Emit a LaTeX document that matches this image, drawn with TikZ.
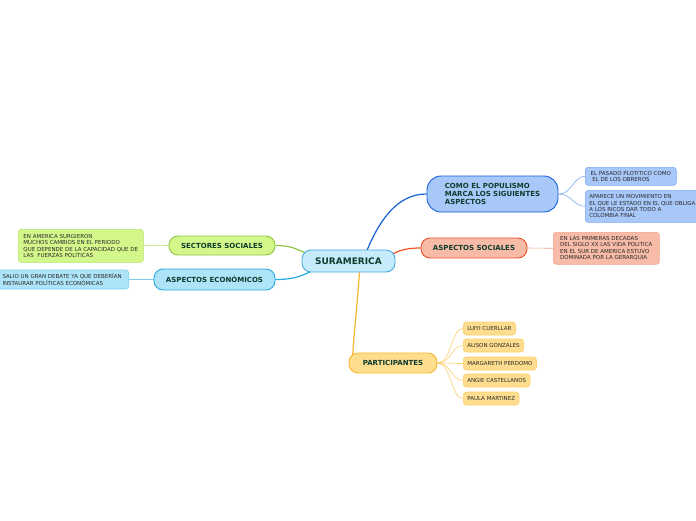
\documentclass[tikz,border=0pt]{standalone}
\usepackage{fontspec}
\setmainfont{DejaVu Sans}
\usetikzlibrary{calc,backgrounds}
\definecolor{maintext}{HTML}{0E3B2C}
\definecolor{leaftext}{HTML}{2A2A2A}
\definecolor{surfill}{HTML}{C6EBFB}\definecolor{surdraw}{HTML}{4AA8E0}
\definecolor{popfill}{HTML}{A8C8FA}\definecolor{popdraw}{HTML}{1560D8}\definecolor{popleaf}{HTML}{7DA9F0}
\definecolor{socfill}{HTML}{F8BBA7}\definecolor{socdraw}{HTML}{F04E23}\definecolor{socleaf}{HTML}{F3A48A}
\definecolor{secfill}{HTML}{D3F78A}\definecolor{secdraw}{HTML}{8DC63F}\definecolor{secleaf}{HTML}{B5E36A}
\definecolor{ecofill}{HTML}{AEE4F8}\definecolor{ecodraw}{HTML}{27A9E1}\definecolor{ecoleaf}{HTML}{7CCDEE}
\definecolor{parfill}{HTML}{FEDD8E}\definecolor{pardraw}{HTML}{F7B62B}\definecolor{parleaf}{HTML}{FCCF6E}
\begin{document}
\begin{tikzpicture}[x=1pt,y=-1pt,
  mainbox/.style={draw, rounded corners=9pt, line width=0.9pt, text=maintext,
    font=\bfseries\fontsize{7}{8}\selectfont, inner sep=0pt},
  leafbox/.style={draw, rounded corners=3pt, line width=0.6pt, text=leaftext,
    font=\fontsize{5.5}{6.4}\selectfont, align=left, inner xsep=4pt, inner ysep=2pt},
  namebox/.style={leafbox, fill=parfill, draw=parleaf, minimum height=13pt, anchor=west, inner xsep=4pt},
  con/.style={line width=1.2pt},
  thin/.style={line width=0.6pt}]
\useasboundingbox (0,0) rectangle (696,520);
\clip (0,0) rectangle (696,520);
% main nodes
\node[mainbox, fill=surfill, draw=surdraw, minimum width=93pt, minimum height=22pt,
  font=\bfseries\fontsize{9}{10}\selectfont] (sur) at (348.5,261) {SURAMERICA};
\node[mainbox, fill=popfill, draw=popdraw, minimum width=131pt, minimum height=36pt,
  rounded corners=14pt, align=left] (pop) at (492.5,194) {COMO EL POPULISMO\\MARCA LOS SIGUIENTES\\ASPECTOS};
\node[mainbox, fill=socfill, draw=socdraw, minimum width=106pt, minimum height=20pt] (soc) at (474,248) {ASPECTOS SOCIALES};
\node[mainbox, fill=secfill, draw=secdraw, minimum width=106pt, minimum height=19pt] (sec) at (222,245.5) {SECTORES SOCIALES};
\node[mainbox, fill=ecofill, draw=ecodraw, minimum width=121pt, minimum height=21pt] (eco) at (214.5,279.5) {ASPECTOS ECONÓMICOS};
\node[mainbox, fill=parfill, draw=pardraw, minimum width=88pt, minimum height=20pt] (par) at (393,363) {PARTICIPANTES};
% leaves
\node[leafbox, fill=popfill, draw=popleaf, anchor=north west, minimum width=91pt, minimum height=18pt] (pop1) at (585,167) {EL PASADO PLOTITICO COMO\\\ EL DE LOS OBREROS};
\node[leafbox, fill=popfill, draw=popleaf, anchor=north west, minimum height=32pt] (pop2) at (585,190) {APARECE UN MOVIMIENTO EN\\EL QUE LE ESTADO EN EL QUE OBLIGA\\A LOS RICOS DAR TODO A\\COLOMBIA FINAL};
\node[leafbox, fill=socfill, draw=socleaf, anchor=north west, minimum width=106pt, minimum height=32pt] (soc1) at (553,232) {EN LAS PRIMERAS DECADAS\\DEL SIGLO XX LAS VIDA POLITICA\\EN EL SUR DE AMERICA ESTUVO\\DOMINADA POR LA GERARQUIA};
\node[leafbox, fill=secfill, draw=secleaf, anchor=north west, minimum width=125pt, minimum height=33pt] (sec1) at (18,229) {EN AMERICA SURGIERON\\MUCHOS CAMBIOS EN EL PERIODO\\QUE DEPENDE DE LA CAPACIDAD QUE DE\\LAS \ FUERZAS POLITICAS};
\node[leafbox, fill=ecofill, draw=ecoleaf, anchor=east, minimum height=19pt, inner xsep=7pt] (eco1) at (129,279.5) {SALIO UN GRAN DEBATE YA QUE DEBERÍAN\\INSTAURAR POLÍTICAS ECONÓMICAS};
\node[namebox] (n1) at (463,328.5) {LUIYI CUERLLAR};
\node[namebox] (n2) at (463,345.5) {ALISON GONZALES};
\node[namebox] (n3) at (463,363.5) {MARGARETH PERDOMO};
\node[namebox] (n4) at (463,380.5) {ANGIE CASTELLANOS};
\node[namebox] (n5) at (463,398.5) {PAULA MARTINEZ};
% connectors
\begin{scope}[on background layer]
\draw[con, popdraw] ($(sur.north)+(18,2)$) .. controls +(14,-34) and +(-28,0) .. (pop.west);
\draw[con, socdraw] ($(sur.east)+(-3,-7)$) .. controls +(10,-5) and +(-10,0) .. (soc.west);
\draw[con, secdraw] (sec.east) .. controls +(18,0) and +(-10,-3) .. ($(sur.west)+(5,-8)$);
\draw[con, ecodraw] (eco.east) .. controls +(22,0) and +(-12,5) .. ($(sur.south west)+(14,-3)$);
\draw[con, pardraw] ($(sur.south)+(11,0)$) .. controls +(-3,40) and +(2,-30) .. ($(par.north west)+(4,4)$);
\draw[thin, popleaf] (pop.east) .. controls +(14,0) and +(-12,0) .. (pop1.west);
\draw[thin, popleaf] (pop.east) .. controls +(14,0) and +(-12,0) .. (pop2.west);
\draw[thin, socleaf] (soc.east) -- (soc1.west);
\draw[thin, secleaf] (sec1.east) -- (sec.west);
\draw[thin, ecoleaf] (eco1.east) -- (eco.west);
\foreach \n in {n1,n2,n3,n4,n5}
  \draw[thin, parleaf] (par.east) .. controls +(14,0) and +(-12,0) .. (\n.west);
\end{scope}
\end{tikzpicture}
\end{document}
